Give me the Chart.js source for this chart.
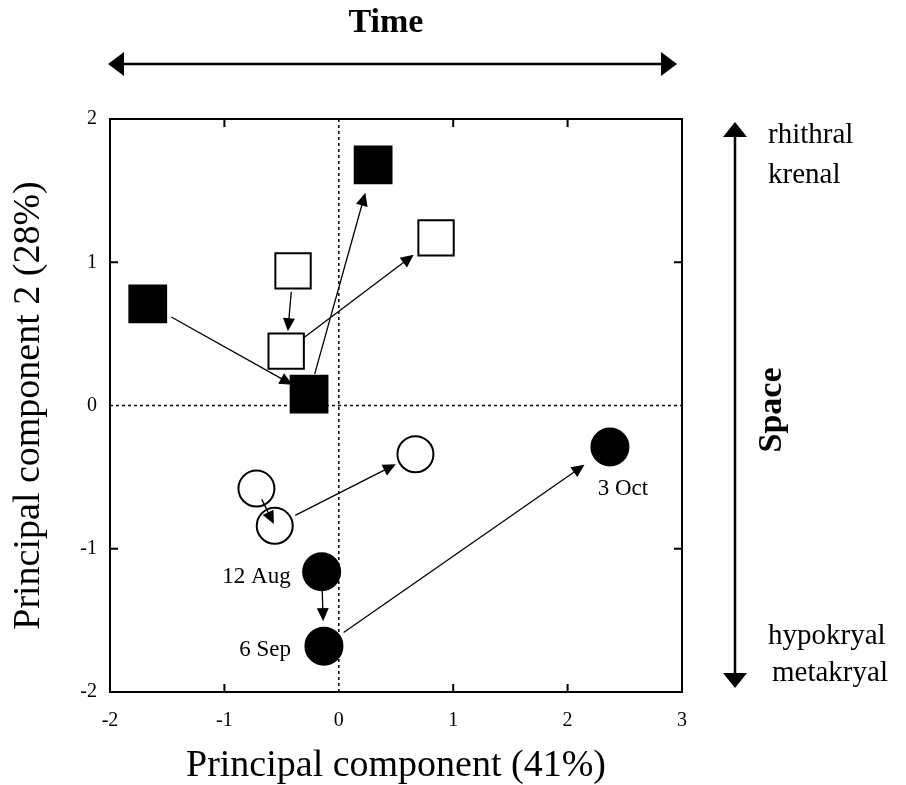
<!DOCTYPE html>
<html>
<head>
<meta charset="utf-8">
<script src="https://cdn.jsdelivr.net/npm/chart.js@4"></script>
<style>
  body { margin: 0; background: #fff; }
</style>
</head>
<body>
<canvas id="grafico" width="906" height="785"></canvas>
<script>
// Dados (PCA)
const filledSquareX = [-1.67, -0.26, 0.30];
const filledSquareY = [0.71, 0.08, 1.68];
const openSquareX = [-0.40, -0.46, 0.85];
const openSquareY = [0.94, 0.38, 1.17];
const openCircleX = [-0.72, -0.56, 0.67];
const openCircleY = [-0.58, -0.84, -0.34];
const filledCircleX = [-0.15, -0.13, 2.37];
const filledCircleY = [-1.16, -1.68, -0.29];
const dateLabels = ['12 Aug', '6 Sep', '3 Oct'];
const xTicks = [-2, -1, 0, 1, 2, 3];
const yTicks = [-2, -1, 0, 1, 2];

const pts = (xs, ys) => xs.map((x, i) => ({ x, y: ys[i] }));

// distancias (px) entre centro do marcador e inicio/ponta da seta
const arrowGaps = [
  [[27, 19], [21, 29]],
  [[21, 20], [22, 28]],
  [[12, 2], [23, 22]],
  [[18, 25], [24, 31]]
];
const labelOffsets = [[-31, 5, 'right'], [-33, 4, 'right'], [13, 42, 'center']];

const serif = '"Liberation Serif", "Times New Roman", serif';

function arrow(ctx, x1, y1, x2, y2, len, half) {
  const a = Math.atan2(y2 - y1, x2 - x1);
  const c = Math.cos(a), s = Math.sin(a);
  ctx.beginPath();
  ctx.moveTo(x1, y1);
  ctx.lineTo(x2 - c * len * 0.7, y2 - s * len * 0.7);
  ctx.stroke();
  ctx.beginPath();
  ctx.moveTo(x2, y2);
  ctx.lineTo(x2 - len * c + half * s, y2 - len * s - half * c);
  ctx.lineTo(x2 - len * c - half * s, y2 - len * s + half * c);
  ctx.closePath();
  ctx.fill();
}

const extras = {
  id: 'extras',
  beforeDatasetsDraw(chart) {
    const { ctx, chartArea: a, scales: { x, y } } = chart;
    ctx.save();
    ctx.strokeStyle = '#000';
    // linhas do zero
    ctx.lineWidth = 1.5;
    ctx.setLineDash([3, 3]);
    ctx.beginPath();
    ctx.moveTo(a.left, y.getPixelForValue(0));
    ctx.lineTo(a.right, y.getPixelForValue(0));
    ctx.moveTo(x.getPixelForValue(0), a.top);
    ctx.lineTo(x.getPixelForValue(0), a.bottom);
    ctx.stroke();
    ctx.setLineDash([]);
    // moldura
    ctx.lineWidth = 2;
    ctx.strokeRect(a.left, a.top, a.right - a.left, a.bottom - a.top);
    // ticks para dentro
    ctx.beginPath();
    xTicks.forEach(v => {
      if (v === 0 || v === xTicks[0] || v === xTicks[xTicks.length - 1]) return;
      const px = x.getPixelForValue(v);
      ctx.moveTo(px, a.bottom); ctx.lineTo(px, a.bottom - 8);
      ctx.moveTo(px, a.top); ctx.lineTo(px, a.top + 8);
    });
    yTicks.forEach(v => {
      if (v === 0 || v === yTicks[0] || v === yTicks[yTicks.length - 1]) return;
      const py = y.getPixelForValue(v);
      ctx.moveTo(a.left, py); ctx.lineTo(a.left + 8, py);
      ctx.moveTo(a.right, py); ctx.lineTo(a.right - 8, py);
    });
    ctx.stroke();
    ctx.restore();
  },
  afterDatasetsDraw(chart) {
    const { ctx } = chart;
    ctx.save();
    ctx.strokeStyle = '#000';
    ctx.fillStyle = '#000';
    ctx.lineWidth = 1.3;
    // setas entre as datas
    chart.data.datasets.forEach((ds, d) => {
      const els = chart.getDatasetMeta(d).data;
      for (let i = 0; i < els.length - 1; i++) {
        const p = els[i], q = els[i + 1];
        const ang = Math.atan2(q.y - p.y, q.x - p.x);
        const [g1, g2] = arrowGaps[d][i];
        arrow(ctx,
          p.x + Math.cos(ang) * g1, p.y + Math.sin(ang) * g1,
          q.x - Math.cos(ang) * g2, q.y - Math.sin(ang) * g2, 13, 6);
      }
    });
    // rotulos das datas
    ctx.font = '23px ' + serif;
    ctx.textBaseline = 'middle';
    const fc = chart.getDatasetMeta(3).data;
    dateLabels.forEach((t, i) => {
      const [dx, dy, al] = labelOffsets[i];
      ctx.textAlign = al;
      ctx.fillText(t, fc[i].x + dx, fc[i].y + dy);
    });
    // Time
    ctx.lineWidth = 2.5;
    arrow(ctx, 395, 64, 677, 64, 16, 12);
    arrow(ctx, 395, 64, 108, 64, 16, 12);
    ctx.font = 'bold 34px ' + serif;
    ctx.textAlign = 'center';
    ctx.fillText('Time', 386, 23);
    // Space
    arrow(ctx, 735, 400, 735, 122, 15, 12);
    arrow(ctx, 735, 400, 735, 688, 15, 12);
    ctx.save();
    ctx.translate(772, 410);
    ctx.rotate(-Math.PI / 2);
    ctx.fillText('Space', 0, 0);
    ctx.restore();
    ctx.font = '29px ' + serif;
    ctx.textAlign = 'left';
    ctx.fillText('rhithral', 768, 135);
    ctx.fillText('krenal', 768, 175);
    ctx.fillText('hypokryal', 768, 636);
    ctx.fillText('metakryal', 772, 673);
    ctx.restore();
  }
};

const base = { showLine: false, borderColor: '#000', borderWidth: 2 };

new Chart(document.getElementById('grafico').getContext('2d'), {
  type: 'scatter',
  data: {
    datasets: [
      { ...base, label: 'filled squares', data: pts(filledSquareX, filledSquareY), pointStyle: 'rect', pointRadius: 26, backgroundColor: '#000' },
      { ...base, label: 'open squares', data: pts(openSquareX, openSquareY), pointStyle: 'rect', pointRadius: 25, backgroundColor: '#fff' },
      { ...base, label: 'open circles', data: pts(openCircleX, openCircleY), pointStyle: 'circle', pointRadius: 18, backgroundColor: '#fff' },
      { ...base, label: 'filled circles', data: pts(filledCircleX, filledCircleY), pointStyle: 'circle', pointRadius: 18.5, backgroundColor: '#000' }
    ]
  },
  options: {
    responsive: false,
    devicePixelRatio: 1,
    animation: false,
    layout: { padding: { left: 0, right: 224, top: 119, bottom: 0 } },
    plugins: { legend: { display: false }, tooltip: { enabled: false } },
    scales: {
      x: {
        type: 'linear', min: -2, max: 3,
        afterBuildTicks: s => { s.ticks = xTicks.map(v => ({ value: v })); },
        afterFit: s => { s.height = 93; },
        grid: { display: false, drawTicks: false },
        border: { display: false },
        ticks: { color: '#000', padding: 17, maxRotation: 0, autoSkip: false, font: { family: serif, size: 20 } },
        title: { display: true, text: 'Principal component (41%)', color: '#000', padding: { top: 0, bottom: 0 }, font: { family: serif, size: 38, lineHeight: 1.0 } }
      },
      y: {
        type: 'linear', min: -2, max: 2,
        afterBuildTicks: s => { s.ticks = yTicks.map(v => ({ value: v })); },
        afterFit: s => { s.width = 110; },
        grid: { display: false, drawTicks: false },
        border: { display: false },
        ticks: { color: '#000', padding: 13, autoSkip: false, font: { family: serif, size: 20 } },
        title: { display: true, text: 'Principal component 2 (28%)', color: '#000', padding: { top: 10, bottom: 0 }, font: { family: serif, size: 38, lineHeight: 1.0 } }
      }
    }
  },
  plugins: [extras]
});
</script>
</body>
</html>
